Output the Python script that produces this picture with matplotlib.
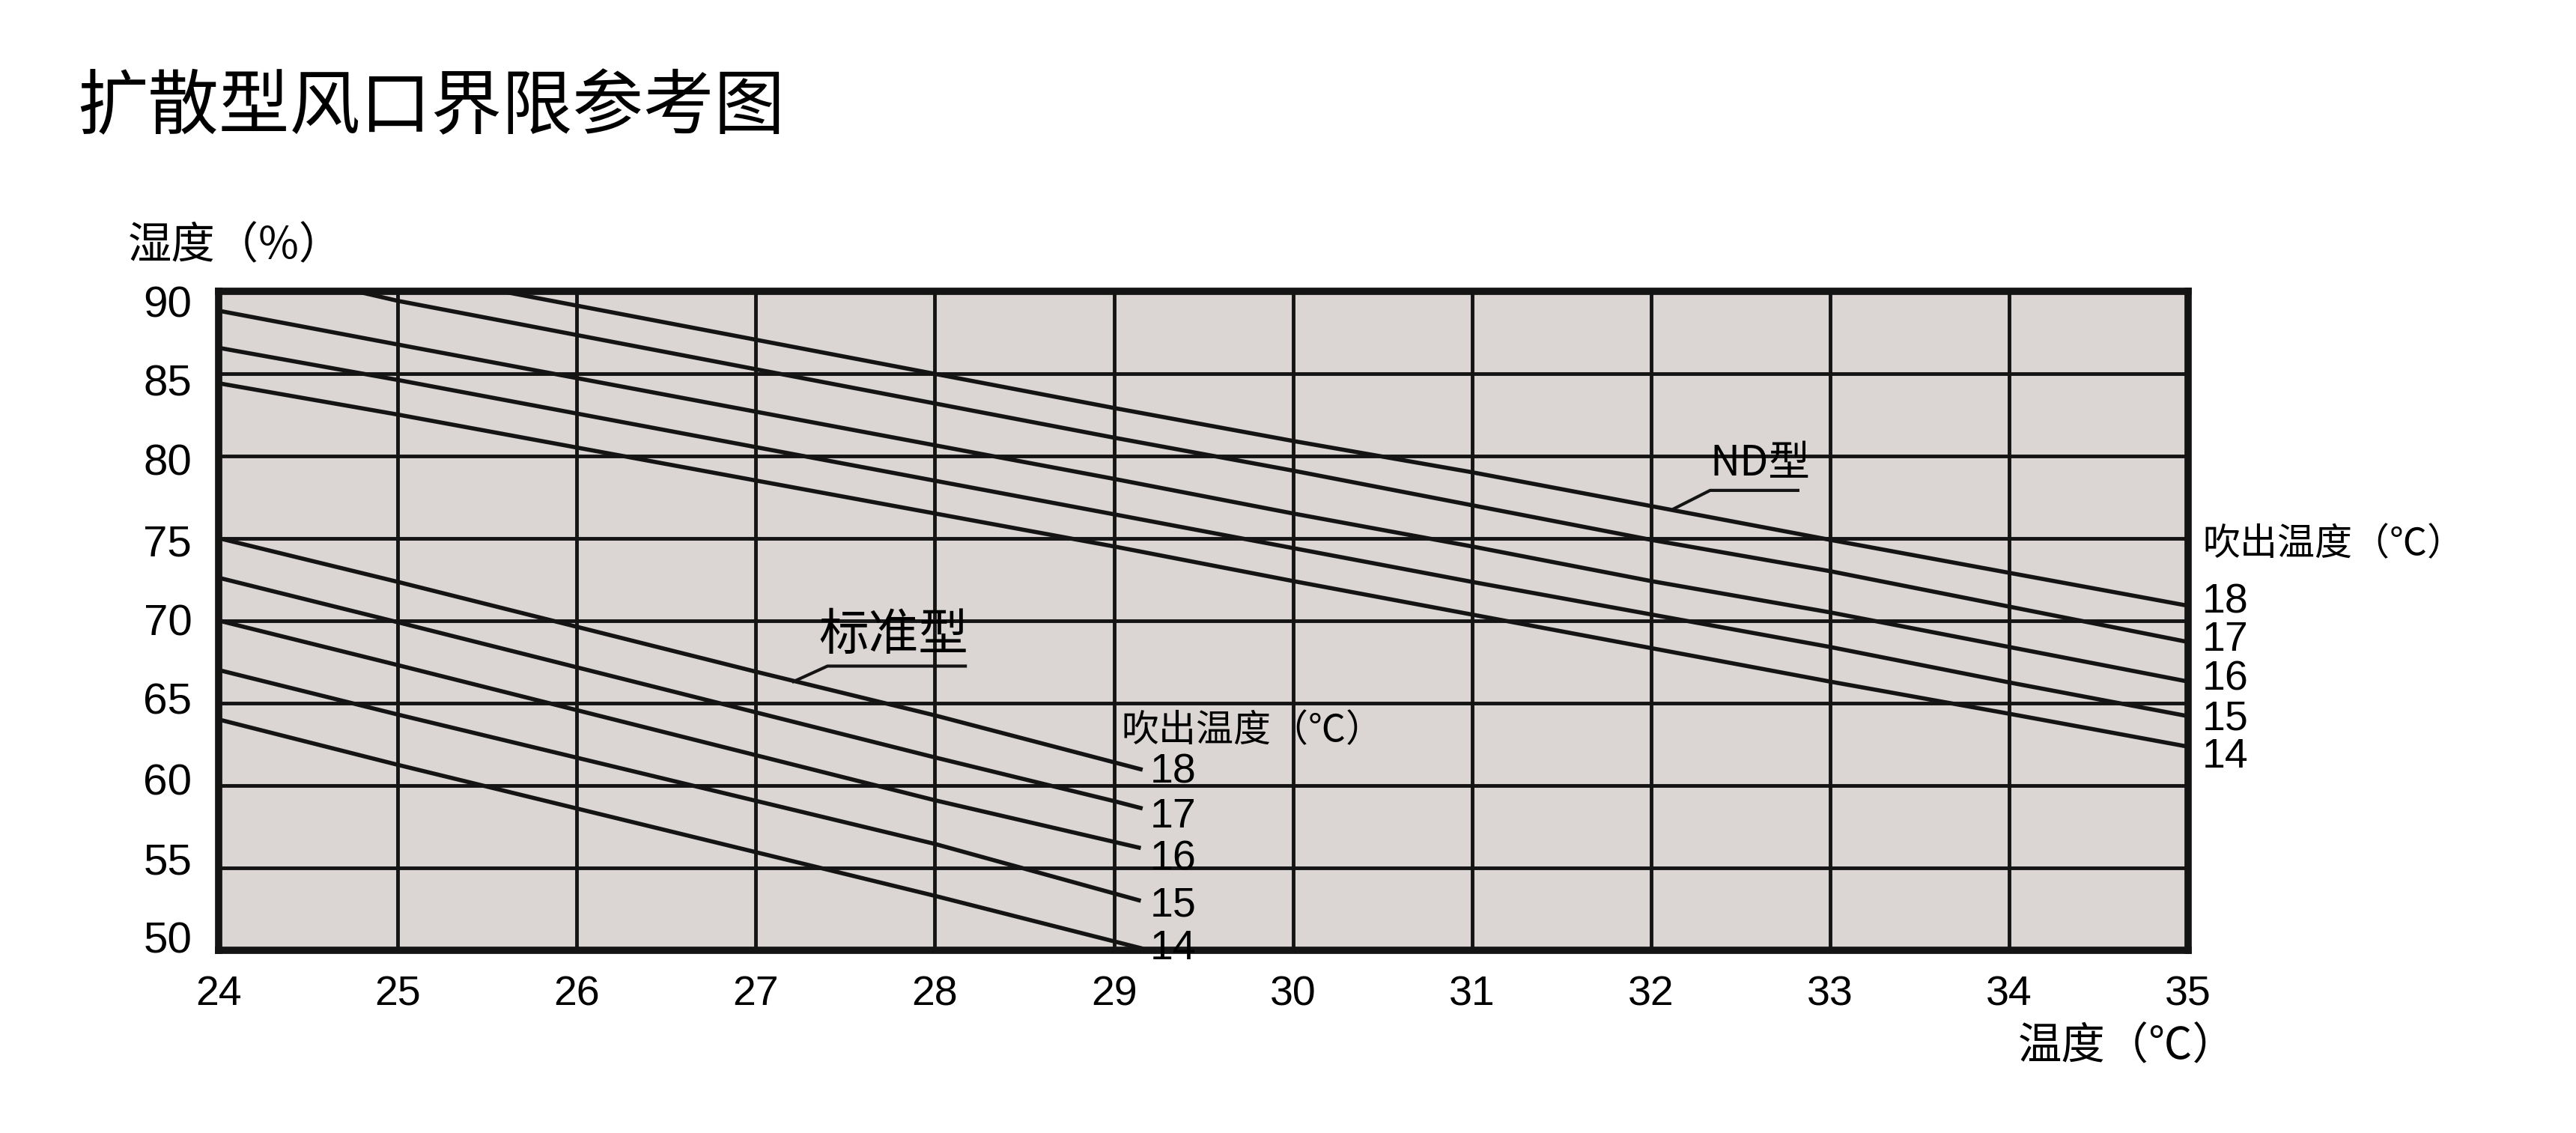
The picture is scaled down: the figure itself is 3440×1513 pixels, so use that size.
import matplotlib
matplotlib.use('Agg')
import matplotlib.pyplot as plt

plt.rcParams['font.family'] = ['Noto Sans CJK SC', 'DejaVu Sans']

# --- dane ---
labels_out = ['18', '17', '16', '15', '14']   # temperatura nawiewu

# ND型
nd_x = [
    [25.57, 29, 30, 31, 33, 35],
    [24.76, 25, 29, 30, 31, 32, 33, 35],
    [24, 25, 29, 30, 31, 32, 33, 34, 35],
    [24, 25, 29, 30, 31, 33, 34, 35],
    [24, 25, 29, 30, 33, 34, 35],
]
nd_y = [
    [90.0, 82.9, 80.9, 79.0, 74.9, 70.9],
    [90.0, 89.4, 81.1, 79.1, 77.0, 74.9, 73.0, 68.7],
    [88.8, 86.75, 78.6, 76.5, 74.5, 72.4, 70.5, 68.4, 66.3],
    [86.55, 84.6, 76.45, 74.4, 72.35, 68.4, 66.25, 64.2],
    [84.4, 82.5, 74.5, 72.4, 66.3, 64.35, 62.35],
]

# 标准型
std_x = [
    [24, 25, 27, 28, 29.16],
    [24, 25, 28, 29, 29.16],
    [24, 25, 28, 29.15],
    [24, 25, 28, 29.15],
    [24, 25, 28, 29.16],
]
std_y = [
    [75.0, 72.35, 66.9, 64.25, 60.95],
    [72.6, 69.9, 61.7, 59.05, 58.6],
    [70.0, 67.3, 59.1, 56.2],
    [67.0, 64.3, 56.45, 53.0],
    [64.0, 61.25, 53.3, 50.1],
]

x_ticks = list(range(24, 36))
y_ticks = list(range(50, 95, 5))

# gdzie stoją napisy (na oryginale nie są dokładnie przy końcach linii)
nd_label_y = [71.1, 68.8, 66.4, 64.0, 61.7]
std_label_y = [60.8, 58.1, 55.5, 52.7, 50.1]
y_label_pos = [50.5, 55.3, 60.1, 65.0, 69.8, 74.6, 79.5, 84.3, 89.1]

# opisy z linią odniesienia
nd_text_pos = (32.61, 79.5)
nd_leader = ([32.13, 32.33, 32.82], [76.8, 77.9, 77.9])
std_text_pos = (27.77, 69.05)
std_leader = ([27.21, 27.4, 28.17], [66.3, 67.24, 67.24])

num_font = ['Liberation Sans Narrow', 'Liberation Sans', 'DejaVu Sans']
ink = '#141414'

fig = plt.figure(figsize=(34.41, 15.13), dpi=100)
ax = fig.add_axes([0.0849, 0.1613, 0.7643, 0.5819])
ax.set_facecolor('#dbd6d4')

for xs, ys in zip(nd_x, nd_y):
    ax.plot(xs, ys, color=ink, lw=4, solid_capstyle='butt', zorder=3)
for xs, ys in zip(std_x, std_y):
    ax.plot(xs, ys, color=ink, lw=4, solid_capstyle='butt', zorder=3)

ax.set_xlim(24, 35)
ax.set_ylim(50, 90)
ax.set_xticks(x_ticks)
ax.set_yticks(y_ticks)
ax.set_xticklabels([str(v) for v in x_ticks], family=num_font, fontsize=40)
ax.set_yticklabels([])
ax.tick_params(length=0, pad=24)
ax.grid(True, color=ink, lw=3.5)
ax.set_axisbelow(True)
for s in ax.spines.values():
    s.set_linewidth(7)
    s.set_color(ink)

# podpisy osi Y trochę ściśnięte jak na oryginale
for v, p in zip(y_ticks, y_label_pos):
    ax.text(23.85, p, str(v), family=['Liberation Sans', 'DejaVu Sans'], fontsize=42,
            ha='right', va='center', clip_on=False)

# etykiety końców linii - ND
for lab, p in zip(labels_out, nd_label_y):
    ax.text(35.08, p, lab, family=num_font, fontsize=40,
            ha='left', va='center', clip_on=False)
ax.text(35.08, 74.6, '吹出温度（℃）', fontsize=36, ha='left', va='center', clip_on=False)

# etykiety końców linii - standard
for lab, p in zip(labels_out, std_label_y):
    ax.text(29.2, p, lab, family=num_font, fontsize=40,
            ha='left', va='center', zorder=4, clip_on=False)
ax.text(29.04, 63.3, '吹出温度（℃）', fontsize=36, ha='left', va='center', zorder=4)

ax.text(*nd_text_pos, 'ND型', fontsize=40, ha='center', va='center', zorder=4)
ax.plot(*nd_leader, color=ink, lw=3, zorder=4)
ax.text(*std_text_pos, '标准型', fontsize=48, ha='center', va='center', zorder=4)
ax.plot(*std_leader, color=ink, lw=3, zorder=4)

fig.text(0.030, 0.905, '扩散型风口界限参考图', fontsize=68, ha='left', va='center')
fig.text(0.0497, 0.7825, '湿度（%）', fontsize=42, ha='left', va='center')
fig.text(0.783, 0.076, '温度（℃）', fontsize=42, ha='left', va='center')

fig.savefig('out.png', dpi=100, facecolor='white')
